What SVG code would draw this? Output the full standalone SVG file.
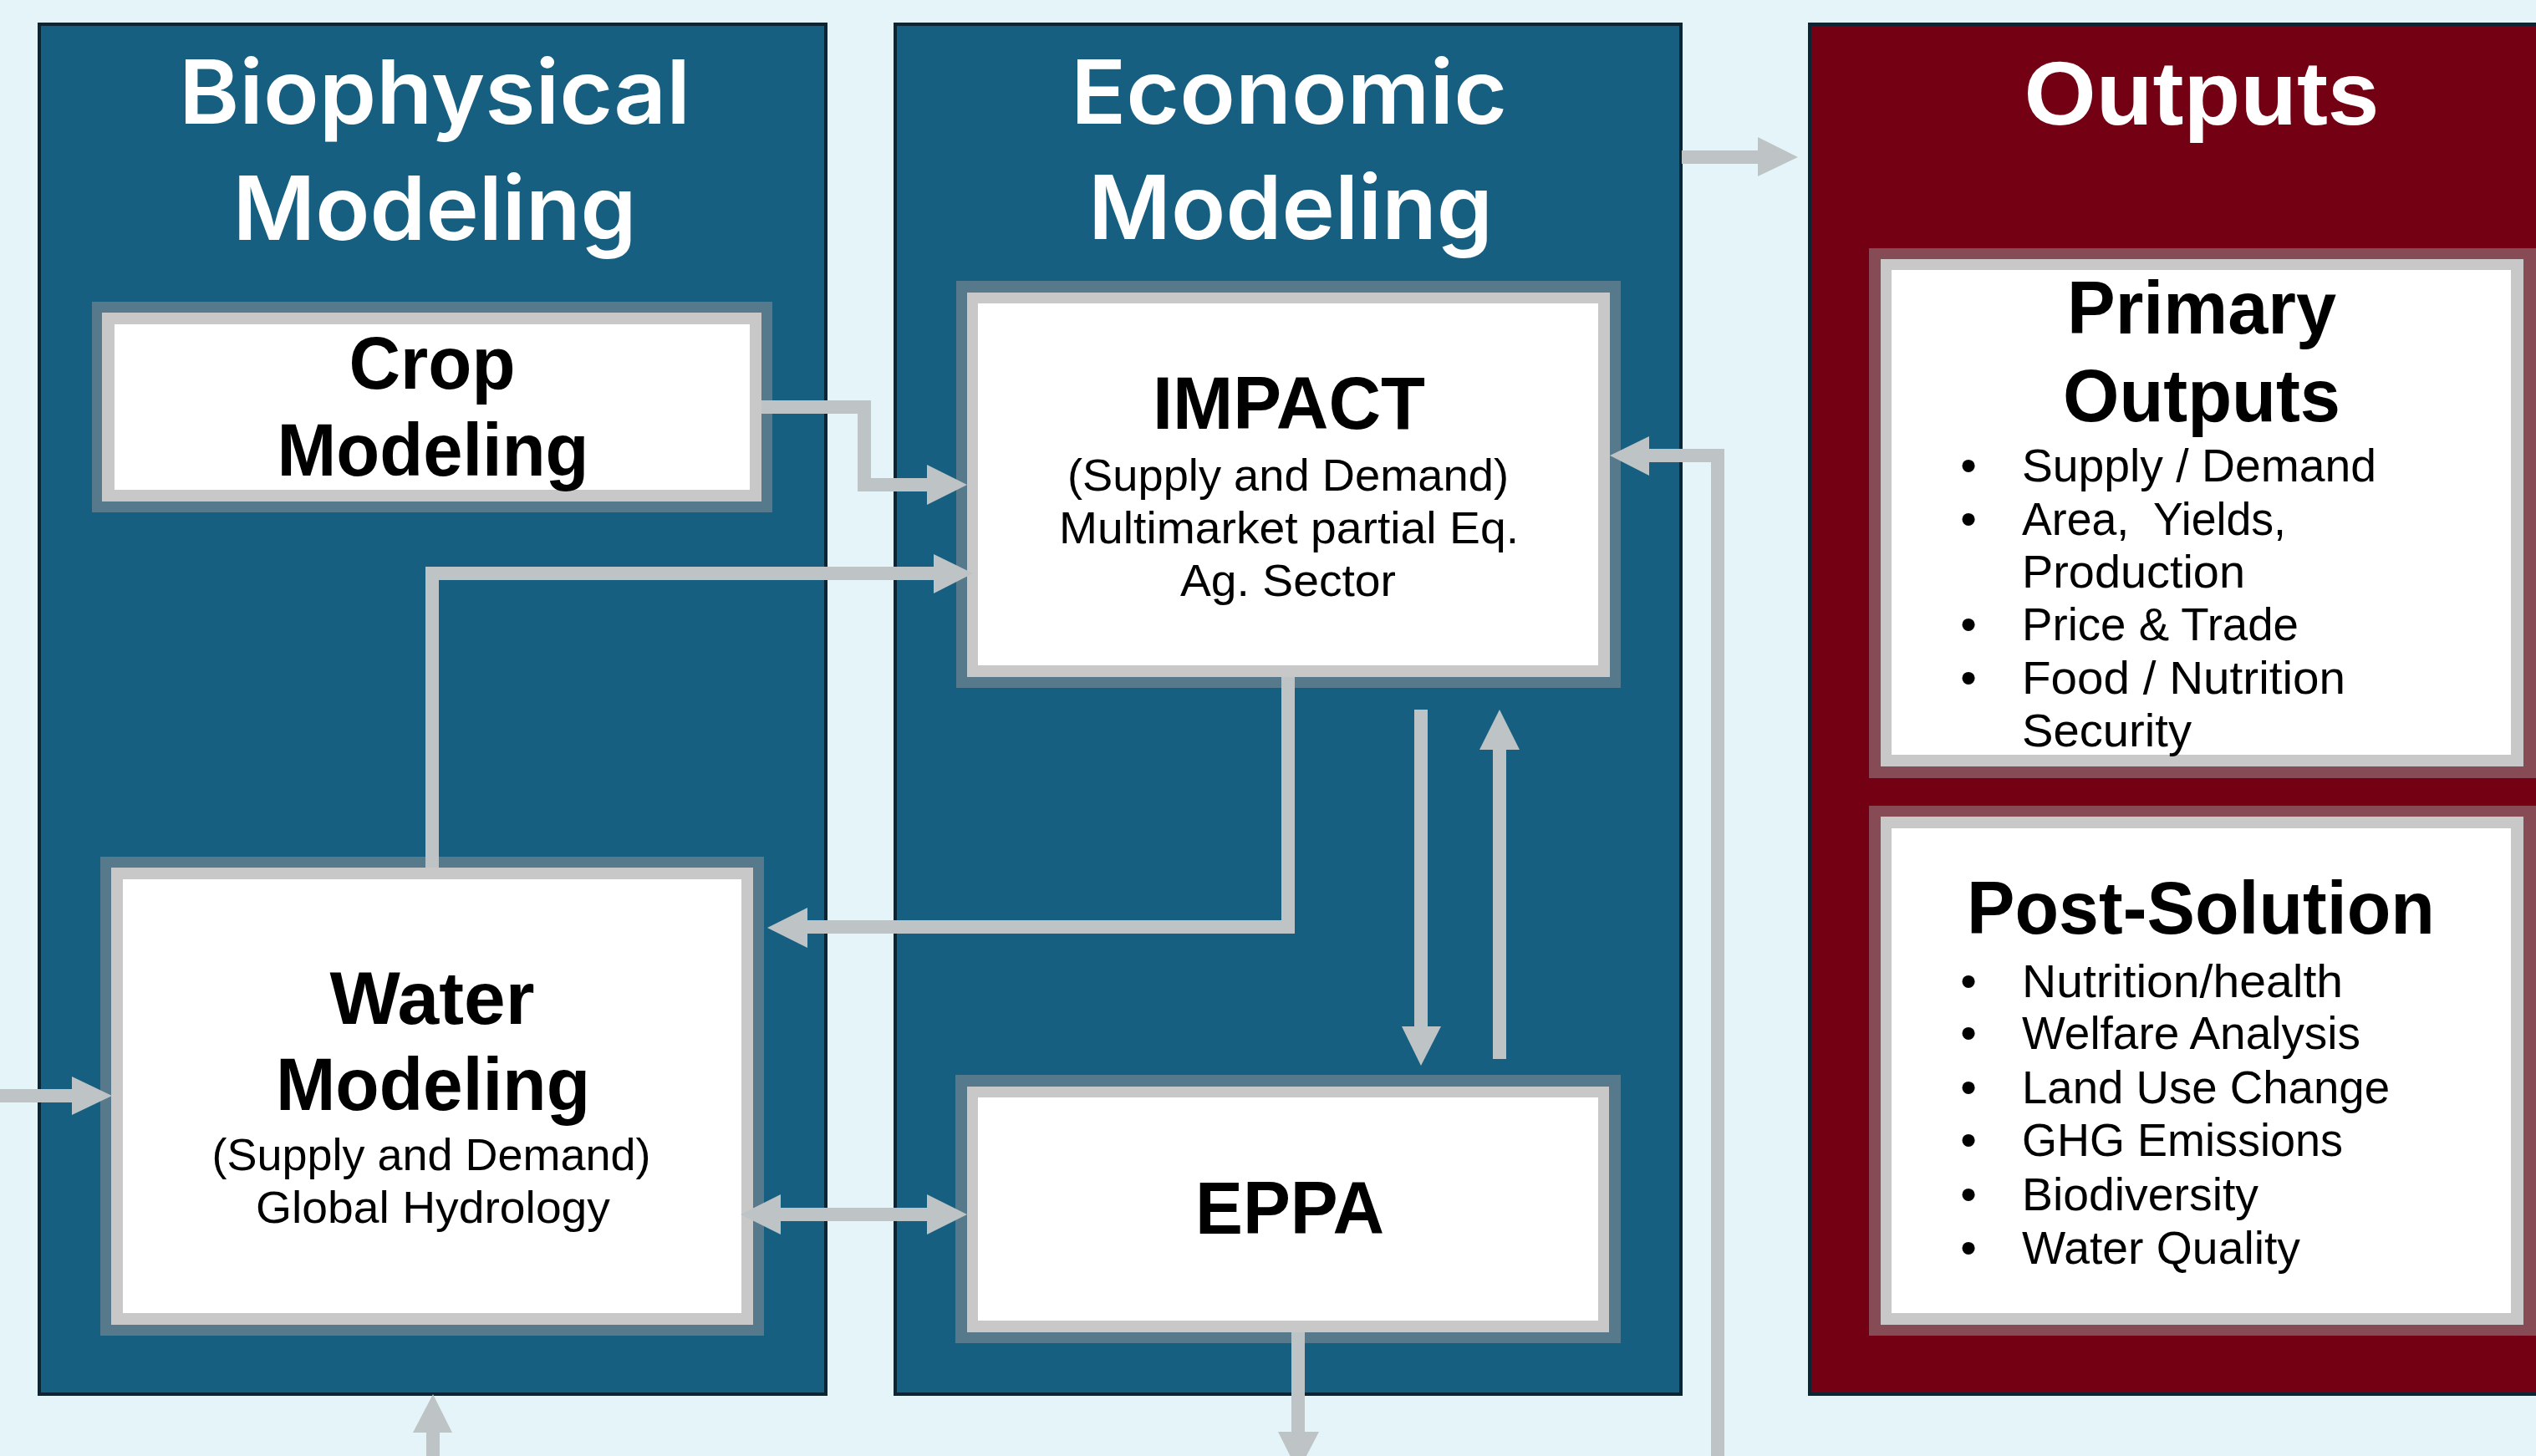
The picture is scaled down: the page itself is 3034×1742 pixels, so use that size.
<svg xmlns="http://www.w3.org/2000/svg" width="3034" height="1742" viewBox="0 0 3034 1742">
  <defs>
    <style>
      .panel-blue { fill: #175f80; stroke: #0b2535; stroke-width: 4; }
      .panel-red { fill: #740014; stroke: #0b2535; stroke-width: 4; }
      .halo-blue { fill: #567a8b; }
      .halo-red { fill: #864b54; }
      .band { fill: #c8c8c8; }
      .face { fill: #ffffff; }
      .title { font-family: Inter, "Open Sans", "Liberation Sans", sans-serif; font-weight: 600; font-size: 106px; fill: #ffffff; text-anchor: middle; }
      .title-b { font-family: "Liberation Sans", Arial, sans-serif; font-weight: 700; font-size: 108px; fill: #ffffff; text-anchor: middle; }
      .head { font-family: "Liberation Sans", Arial, sans-serif; font-weight: 700; font-size: 89px; fill: #000000; text-anchor: middle; }
      .sub { font-family: "Liberation Sans", Arial, sans-serif; font-size: 54px; fill: #000000; text-anchor: middle; }
      .item { font-family: "Liberation Sans", Arial, sans-serif; font-size: 56px; fill: #000000; }
      .dot { font-family: "Liberation Sans", Arial, sans-serif; font-size: 56px; fill: #000000; text-anchor: middle; }
      .wire { fill: none; stroke: #bec4c5; stroke-width: 16; }
      .tip { fill: #bec4c5; }
    </style>
  </defs>

  <rect width="3034" height="1742" fill="#e5f4f9"/>

  <!-- Column panels -->
  <g id="panel-biophysical">
    <rect class="panel-blue" x="47" y="29" width="941" height="1639"/>
    <text class="title" x="520" y="148" textLength="612" lengthAdjust="spacingAndGlyphs">Biophysical</text>
    <text class="title" x="520" y="287" textLength="483" lengthAdjust="spacingAndGlyphs">Modeling</text>
  </g>
  <g id="panel-economic">
    <rect class="panel-blue" x="1071" y="29" width="940" height="1639"/>
    <text class="title" x="1542" y="148" textLength="522" lengthAdjust="spacingAndGlyphs">Economic</text>
    <text class="title" x="1544" y="286" textLength="484" lengthAdjust="spacingAndGlyphs">Modeling</text>
  </g>
  <g id="panel-outputs">
    <rect class="panel-red" x="2165" y="29" width="900" height="1639"/>
    <text class="title-b" x="2634" y="149" textLength="425" lengthAdjust="spacingAndGlyphs">Outputs</text>
  </g>

  <!-- Model boxes -->
  <g id="node-crop">
    <rect class="halo-blue" x="110" y="361" width="814" height="252"/>
    <rect class="band" x="122" y="374" width="789" height="226"/>
    <rect class="face" x="137" y="388" width="760" height="198"/>
    <text class="head" x="517" y="465" textLength="199" lengthAdjust="spacingAndGlyphs">Crop</text>
    <text class="head" x="518" y="569" textLength="373" lengthAdjust="spacingAndGlyphs">Modeling</text>
  </g>

  <g id="node-impact">
    <rect class="halo-blue" x="1144" y="336" width="795" height="487"/>
    <rect class="band" x="1157" y="350" width="769" height="460"/>
    <rect class="face" x="1170" y="363" width="742" height="433"/>
    <text class="head" x="1542" y="513" font-size="88" textLength="326" lengthAdjust="spacingAndGlyphs">IMPACT</text>
    <text class="sub" x="1541" y="587" textLength="528" lengthAdjust="spacingAndGlyphs">(Supply and Demand)</text>
    <text class="sub" x="1542" y="650" textLength="550" lengthAdjust="spacingAndGlyphs">Multimarket partial Eq.</text>
    <text class="sub" x="1541" y="713" textLength="258" lengthAdjust="spacingAndGlyphs">Ag. Sector</text>
  </g>

  <g id="node-water">
    <rect class="halo-blue" x="120" y="1025" width="794" height="573"/>
    <rect class="band" x="133" y="1038" width="768" height="547"/>
    <rect class="face" x="147" y="1052" width="740" height="519"/>
    <text class="head" x="517" y="1225" font-size="90" textLength="245" lengthAdjust="spacingAndGlyphs">Water</text>
    <text class="head" x="518" y="1328" font-size="90" textLength="376" lengthAdjust="spacingAndGlyphs">Modeling</text>
    <text class="sub" x="516" y="1400" textLength="525" lengthAdjust="spacingAndGlyphs">(Supply and Demand)</text>
    <text class="sub" x="518" y="1463" textLength="424" lengthAdjust="spacingAndGlyphs">Global Hydrology</text>
  </g>

  <g id="node-eppa">
    <rect class="halo-blue" x="1143" y="1286" width="796" height="321"/>
    <rect class="band" x="1157" y="1300" width="768" height="294"/>
    <rect class="face" x="1170" y="1313" width="742" height="267"/>
    <text class="head" x="1543" y="1476" font-size="90" textLength="226" lengthAdjust="spacingAndGlyphs">EPPA</text>
  </g>

  <g id="node-primary-outputs">
    <rect class="halo-red" x="2236" y="297" width="810" height="634"/>
    <rect class="band" x="2250" y="310" width="769" height="607"/>
    <rect class="face" x="2263" y="323" width="741" height="580"/>
    <text class="head" x="2634" y="399" font-size="88" textLength="322" lengthAdjust="spacingAndGlyphs">Primary</text>
    <text class="head" x="2634" y="504" font-size="88" textLength="332" lengthAdjust="spacingAndGlyphs">Outputs</text>
    <text class="dot" x="2355" y="576">•</text>
    <text class="item" x="2419" y="576" textLength="424" lengthAdjust="spacingAndGlyphs">Supply / Demand</text>
    <text class="dot" x="2355" y="640">•</text>
    <text class="item" x="2419" y="640" textLength="316" lengthAdjust="spacingAndGlyphs" xml:space="preserve">Area,  Yields,</text>
    <text class="item" x="2419" y="703" textLength="267" lengthAdjust="spacingAndGlyphs">Production</text>
    <text class="dot" x="2355" y="766">•</text>
    <text class="item" x="2419" y="766" textLength="331" lengthAdjust="spacingAndGlyphs">Price &amp; Trade</text>
    <text class="dot" x="2355" y="830">•</text>
    <text class="item" x="2419" y="830" textLength="387" lengthAdjust="spacingAndGlyphs">Food / Nutrition</text>
    <text class="item" x="2419" y="893" textLength="203" lengthAdjust="spacingAndGlyphs">Security</text>
  </g>

  <g id="node-post-solution">
    <rect class="halo-red" x="2236" y="964" width="810" height="634"/>
    <rect class="band" x="2250" y="977" width="769" height="608"/>
    <rect class="face" x="2263" y="991" width="741" height="580"/>
    <text class="head" x="2633" y="1117" font-size="86" textLength="560" lengthAdjust="spacingAndGlyphs">Post-Solution</text>
    <text class="dot" x="2355" y="1193">•</text>
    <text class="item" x="2419" y="1193" textLength="384" lengthAdjust="spacingAndGlyphs">Nutrition/health</text>
    <text class="dot" x="2355" y="1255">•</text>
    <text class="item" x="2419" y="1255" textLength="405" lengthAdjust="spacingAndGlyphs">Welfare Analysis</text>
    <text class="dot" x="2355" y="1320">•</text>
    <text class="item" x="2419" y="1320" textLength="440" lengthAdjust="spacingAndGlyphs">Land Use Change</text>
    <text class="dot" x="2355" y="1383">•</text>
    <text class="item" x="2419" y="1383" textLength="384" lengthAdjust="spacingAndGlyphs">GHG Emissions</text>
    <text class="dot" x="2355" y="1448">•</text>
    <text class="item" x="2419" y="1448" textLength="283" lengthAdjust="spacingAndGlyphs">Biodiversity</text>
    <text class="dot" x="2355" y="1512">•</text>
    <text class="item" x="2419" y="1512" textLength="333" lengthAdjust="spacingAndGlyphs">Water Quality</text>
  </g>

  <!-- Connectors, drawn over the box frames -->
  <g id="connectors">
    <path class="wire" d="M911,487 H1034 V580 H1111"/>
    <polygon class="tip" points="1109,556 1157,580 1109,604"/>

    <path class="wire" d="M517,1038 V686 H1119"/>
    <polygon class="tip" points="1117,663 1164,686 1117,710"/>

    <path class="wire" d="M1541,810 V1109 H964"/>
    <polygon class="tip" points="966,1086 918,1110 966,1134"/>

    <path class="wire" d="M1700,849 V1230"/>
    <polygon class="tip" points="1677,1228 1700,1275 1724,1228"/>

    <path class="wire" d="M1794,1267 V895"/>
    <polygon class="tip" points="1770,897 1794,849 1818,897"/>

    <path class="wire" d="M932,1453 H1111"/>
    <polygon class="tip" points="934,1429 886,1453 934,1477"/>
    <polygon class="tip" points="1109,1429 1157,1453 1109,1477"/>

    <path class="wire" d="M0,1311 H88"/>
    <polygon class="tip" points="86,1288 134,1311 86,1334"/>

    <path class="wire" d="M518,1742 V1712"/>
    <polygon class="tip" points="494,1714 518,1668 541,1714"/>

    <path class="wire" d="M1553,1594 V1715"/>
    <polygon class="tip" points="1529,1713 1553,1761 1578,1713"/>

    <path class="wire" d="M2055,1742 V545 H1971"/>
    <polygon class="tip" points="1973,522 1926,545 1973,569"/>

    <path class="wire" d="M2012,188 H2105"/>
    <polygon class="tip" points="2103,164 2151,188 2103,211"/>
  </g>
</svg>
